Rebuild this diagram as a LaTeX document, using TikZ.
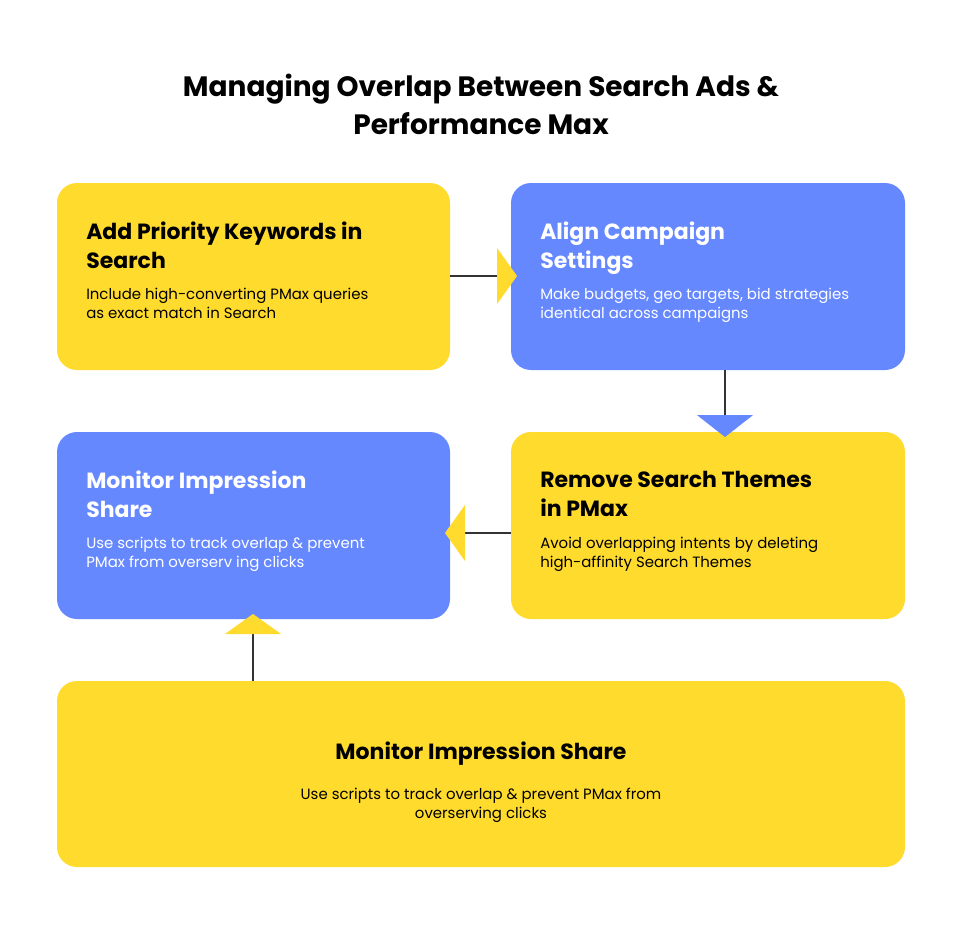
\documentclass[tikz,border=0pt]{standalone}
\usepackage{fontspec}
\setmainfont{Poppins}
\usetikzlibrary{arrows.meta}
\definecolor{yel}{HTML}{FFDB2E}
\definecolor{blu}{HTML}{6688FF}
\definecolor{lnk}{HTML}{333333}
\tikzset{
  x=0.75pt,y=-0.75pt,
  box/.style={rounded corners=15pt,inner sep=0pt},
  head/.style={anchor=north west,inner sep=0pt,align=left,font=\fontsize{16.5}{21.75}\selectfont\bfseries},
  body/.style={anchor=north west,inner sep=0pt,align=left,font=\fontsize{11.2}{14.4}\selectfont},
  conn/.style={draw=lnk,line width=0.8pt},
}
\begin{document}
\begin{tikzpicture}
\useasboundingbox[fill=white] (0,0) rectangle (961,949);
\node[inner sep=0pt,align=center,font=\fontsize{21}{28.5}\selectfont\bfseries] (title) at (481,104) {Managing Overlap Between Search Ads \&\\Performance Max};
\fill[yel,box] (57,183) rectangle (450,370);
\coordinate (b1e) at (450,276);
\fill[blu,box] (511,183) rectangle (905,370);
\coordinate (b2w) at (517,276); \coordinate (b2s) at (725,370);
\fill[blu,box] (57,432) rectangle (450,619);
\coordinate (b3e) at (445,533); \coordinate (b3s) at (253,614);
\fill[yel,box] (511,432) rectangle (905,619);
\coordinate (b4n) at (725,437); \coordinate (b4w) at (511,533);
\fill[yel,box] (57,681) rectangle (905,867);
\coordinate (b5n) at (253,681);

\node[head] (h1) at (86,222) {Add Priority Keywords in\\Search};
\node[body] (t1) at (86,288) {Include high-converting PMax queries\\as exact match in Search};
\node[head,white] (h2) at (540,222) {Align Campaign\\Settings};
\node[body,white] (t2) at (540,288) {Make budgets, geo targets, bid strategies\\identical across campaigns};
\node[head,white] (h3) at (86,471) {Monitor Impression\\Share};
\node[body,white] (t3) at (86,537) {Use scripts to track overlap \& prevent\\PMax from overserv ing clicks};
\node[head] (h4) at (540,471) {Remove Search Themes\\in PMax};
\node[body] (t4) at (540,537) {Avoid overlapping intents by deleting\\high-affinity Search Themes};
\node[inner sep=0pt,font=\fontsize{16.5}{21.75}\selectfont\bfseries,anchor=base] (h5) at (481,759) {Monitor Impression Share};
\node[inner sep=0pt,align=center,font=\fontsize{11.2}{14.4}\selectfont,anchor=north] (t5) at (481,788) {Use scripts to track overlap \& prevent PMax from\\overserving clicks};

\draw[conn,-{Triangle[length=15pt,width=42pt,color=yel]}] (b1e) -- (b2w);
\draw[conn,-{Triangle[length=16.5pt,width=42pt,color=blu]}] (b2s) -- (b4n);
\draw[conn,-{Triangle[length=15pt,width=42pt,color=yel]}] (b4w) -- (b3e);
\draw[conn,-{Triangle[length=15pt,width=42pt,color=yel]}] (b5n) -- (b3s);
\end{tikzpicture}
\end{document}
